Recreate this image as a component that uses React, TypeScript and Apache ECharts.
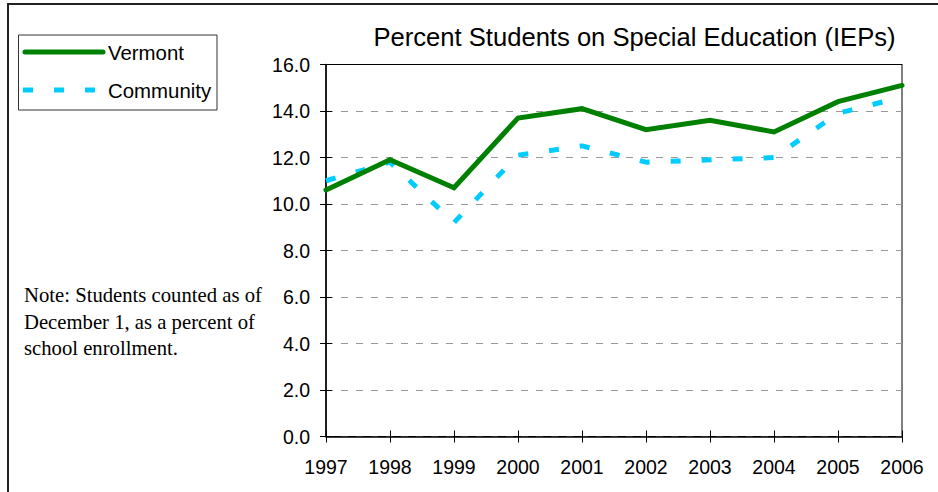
import React, { useEffect, useRef } from "react";
import * as echarts from "echarts";

const years = ["1997", "1998", "1999", "2000", "2001", "2002", "2003", "2004", "2005", "2006"];
const vermont = [10.6, 11.9, 10.7, 13.7, 14.1, 13.2, 13.6, 13.1, 14.4, 15.1];
const community = [11.0, 11.8, 9.2, 12.1, 12.5, 11.8, 11.9, 12.0, 13.9, 14.6];
const titleText = "Percent Students on Special Education (IEPs)";
const noteLines = ["Note: Students counted as of", "December 1, as a percent of", "school enrollment."];
const seriesNames = ["Vermont", "Community"];

const GREEN = "#008000";
const CYAN = "#00CCFF";
const SANS = "'Liberation Sans', Arial, sans-serif";
const SERIF = "'Liberation Serif', 'Times New Roman', serif";

export default function App() {
  const ref = useRef<HTMLDivElement>(null);
  useEffect(() => {
    if (!ref.current) return;
    const chart = echarts.init(ref.current, null, { renderer: "svg" });
    const yBase = {
      type: "value" as const,
      min: 0,
      max: 16,
      interval: 2,
      gridIndex: 0,
      position: "left" as const,
    };
    chart.setOption({
      animation: false,
      backgroundColor: "#ffffff",
      grid: {
        left: 326,
        right: 36,
        top: 64.5,
        bottom: 55.5,
        show: true,
        borderColor: "#000",
        borderWidth: 1,
        backgroundColor: "transparent",
      },
      xAxis: [
        {
          type: "category",
          data: years,
          boundaryGap: false,
          position: "bottom",
          axisLine: { show: true, lineStyle: { color: "#000", width: 1.5 } },
          axisTick: { show: true, inside: false, length: 6, lineStyle: { color: "#000", width: 1 } },
          axisLabel: { color: "#000", fontFamily: SANS, fontSize: 19.5, margin: 20 },
          splitLine: { show: false },
        },
        {
          type: "category",
          data: years,
          boundaryGap: false,
          position: "bottom",
          axisLine: { show: false },
          axisTick: { show: true, inside: true, length: 6, lineStyle: { color: "#000", width: 1 } },
          axisLabel: { show: false },
          splitLine: { show: false },
        },
        {
          type: "category",
          data: years,
          boundaryGap: false,
          position: "top",
          z: 5,
          axisLine: { show: true, lineStyle: { color: "#000", width: 1 } },
          axisTick: { show: false },
          axisLabel: { show: false },
          splitLine: { show: false },
        },
      ],
      yAxis: [
        {
          ...yBase,
          axisLine: { show: true, lineStyle: { color: "#000", width: 1.5 } },
          axisTick: { show: true, inside: false, length: 6, lineStyle: { color: "#000", width: 1 } },
          axisLabel: {
            color: "#000",
            fontFamily: SANS,
            fontSize: 19.5,
            margin: 16,
            formatter: (v: number) => v.toFixed(1),
          },
          splitLine: { show: true, lineStyle: { color: "#999", width: 1, type: [7, 8] } },
        },
        {
          ...yBase,
          axisLine: { show: false },
          axisTick: { show: true, inside: true, length: 6, lineStyle: { color: "#000", width: 1 } },
          axisLabel: { show: false },
          splitLine: { show: false },
        },
      ],
      series: [
        {
          name: seriesNames[0],
          type: "line",
          data: vermont,
          xAxisIndex: 0,
          yAxisIndex: 0,
          symbol: "none",
          z: 3,
          lineStyle: { color: GREEN, width: 5, cap: "round", join: "miter" },
        },
        {
          name: seriesNames[1],
          type: "line",
          data: community,
          xAxisIndex: 0,
          yAxisIndex: 0,
          symbol: "none",
          z: 2,
          lineStyle: { color: CYAN, width: 5, type: [10, 21], cap: "butt" },
        },
      ],
      graphic: [
        {
          type: "rect",
          shape: { x: 8, y: 4, width: 1200, height: 1000 },
          style: { fill: "none", stroke: "#222", lineWidth: 2 },
          silent: true,
        },
        {
          type: "text",
          x: 634.5,
          y: 37,
          style: {
            text: titleText,
            fill: "#000",
            font: `25.6px ${SANS}`,
            textAlign: "center",
            textVerticalAlign: "middle",
          },
        },
        {
          type: "rect",
          shape: { x: 18.5, y: 35, width: 198.5, height: 75 },
          style: { fill: "#fff", stroke: "#333", lineWidth: 1 },
        },
        {
          type: "line",
          shape: { x1: 25, y1: 52, x2: 103, y2: 52 },
          style: { stroke: GREEN, lineWidth: 5, lineCap: "round" },
        },
        {
          type: "text",
          x: 108,
          y: 53,
          style: { text: seriesNames[0], fill: "#000", font: `20.4px ${SANS}`, textVerticalAlign: "middle" },
        },
        {
          type: "line",
          shape: { x1: 23, y1: 90, x2: 96, y2: 90 },
          style: { stroke: CYAN, lineWidth: 5, lineDash: [10, 21], lineCap: "butt" },
        },
        {
          type: "text",
          x: 108,
          y: 91,
          style: { text: seriesNames[1], fill: "#000", font: `20.4px ${SANS}`, textVerticalAlign: "middle" },
        },
        ...noteLines.map((t, i) => ({
          type: "text",
          x: 24,
          y: 295 + i * 26.7,
          style: { text: t, fill: "#000", font: `20.7px ${SERIF}`, textVerticalAlign: "middle" },
        })),
      ],
    });
    return () => chart.dispose();
  }, []);
  return (
    <div
      ref={ref}
      style={{ position: "absolute", left: 0, top: 0, width: 938, height: 492, background: "#fff" }}
    />
  );
}
